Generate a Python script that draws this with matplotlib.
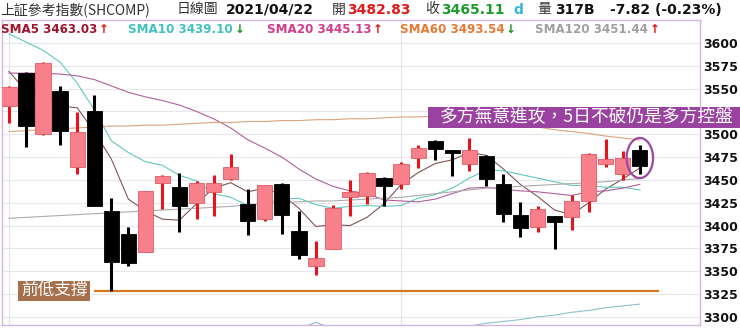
import matplotlib
matplotlib.use("Agg")
import matplotlib.pyplot as plt
import numpy as np
from matplotlib.patches import Ellipse, Rectangle

# ---------------- data ----------------
opens = [3531, 3567, 3500, 3547, 3464, 3526, 3416, 3391, 3371, 3447,
         3442, 3425, 3437, 3451, 3424, 3407, 3446, 3394, 3356, 3374,
         3431, 3432, 3452, 3446, 3474, 3493, 3483, 3468, 3476, 3446,
         3412, 3398, 3410, 3409, 3427, 3468, 3457, 3482.83]
highs = [3553, 3568, 3579, 3553, 3524, 3543, 3430, 3398, 3438, 3455,
         3458, 3449, 3455, 3478, 3440, 3445, 3447, 3416, 3383, 3423,
         3450, 3459, 3453, 3470, 3488, 3494, 3483, 3496, 3477, 3457,
         3426, 3421, 3410, 3434, 3479, 3495, 3482, 3488]
lows = [3512, 3486, 3499, 3488, 3457, 3421, 3328.5, 3356, 3371, 3418,
        3393, 3407, 3411, 3450, 3390, 3405, 3391, 3363, 3346, 3374,
        3411, 3424, 3422, 3440, 3463, 3472, 3454, 3460, 3443, 3404,
        3388, 3393, 3374, 3395, 3415, 3464, 3450, 3457]
closes = [3552, 3509, 3578, 3504, 3502, 3422, 3360, 3359, 3438, 3454,
          3421, 3447, 3447, 3464, 3405, 3444, 3412, 3368, 3364, 3419,
          3437, 3458, 3443, 3468, 3485, 3484, 3480, 3483, 3451, 3413,
          3397, 3418, 3404, 3427, 3478, 3473, 3474, 3465.11]

sma5 = [3569, 3547, 3546, 3531, 3529, 3503, 3473, 3429, 3416, 3407,
        3406, 3424, 3441, 3447, 3437, 3441, 3434, 3419, 3399, 3401,
        3400, 3409, 3424, 3445, 3458, 3468, 3472, 3480, 3477, 3462,
        3445, 3432, 3417, 3412, 3425, 3440, 3451, 3463.03]
sma10 = [3610, 3601, 3592, 3579, 3556, 3527, 3493, 3480, 3470, 3466,
         3455, 3449, 3435, 3431, 3422, 3424, 3429, 3430, 3423, 3419,
         3421, 3422, 3421, 3422, 3430, 3434, 3441, 3452, 3461, 3460,
         3456, 3452, 3448, 3444, 3444, 3442, 3442, 3439.10]
sma20 = [3567, 3567, 3567, 3566, 3564, 3560, 3553, 3546, 3541, 3537,
         3532, 3525, 3517, 3507, 3494, 3485, 3475, 3462, 3451, 3443,
         3438, 3435, 3428, 3427, 3426, 3429, 3435, 3441, 3442, 3440,
         3438, 3437, 3435, 3433, 3437, 3438, 3441, 3445.13]
sma60 = [3503, 3504, 3505, 3506, 3507, 3508, 3509, 3509, 3510, 3510,
         3511, 3512, 3513, 3513, 3514, 3514, 3515, 3515, 3516, 3516,
         3517, 3517, 3518, 3519, 3519, 3520, 3519, 3518, 3516, 3514,
         3511, 3508, 3505, 3503, 3501, 3498, 3496, 3493.54]
sma120 = [3408, 3409, 3410, 3411, 3412, 3413, 3414, 3415, 3416, 3417,
          3418, 3419, 3420, 3421, 3423, 3424, 3425, 3426, 3427, 3427,
          3428, 3429, 3430, 3431, 3433, 3435, 3437, 3439, 3441, 3442,
          3443, 3444, 3445, 3446, 3447, 3448, 3450, 3451.44]
ma_long = [3270, 3271, 3272, 3273, 3274, 3275, 3276, 3277, 3278, 3279,
           3280, 3281, 3282, 3283, 3284, 3285, 3286, 3287, 3294, 3287,
           3287, 3287, 3288, 3288, 3288, 3289, 3289, 3290, 3293, 3295,
           3297, 3300, 3302, 3305, 3307, 3310, 3312, 3314]

y_ticks = [3300, 3325, 3350, 3375, 3400, 3425, 3450, 3475, 3500, 3525,
           3550, 3575, 3600]
hidden_tick = 3525          # covered by the note box in the reference
month_starts = [0, 23]

title_items = [("上証參考指數(SHCOMP)", "#333333", "normal"),
               ("日線圖", "#333333", "normal"),
               ("2021/04/22", "#111111", "bold"),
               ("開", "#333333", "normal"),
               ("3482.83", "#E01A1A", "bold"),
               ("收", "#333333", "normal"),
               ("3465.11", "#1E9A2E", "bold"),
               ("d", "#34B4DC", "bold"),
               ("量", "#333333", "normal"),
               ("317B", "#111111", "bold"),
               ("-7.82 (-0.23%)", "#111111", "bold")]
title_x = [0, 177, 226, 332, 347, 425, 441, 513, 537, 555, 610]

sma_labels = ["SMA5 3463.03", "SMA10 3439.10", "SMA20 3445.13",
              "SMA60 3493.54", "SMA120 3451.44"]
sma_arrows = ["↑", "↓", "↑", "↓", "↑"]
sma_text_colors = ["#A0142C", "#3EC2C2", "#D23C8C", "#E57A36", "#A0A0A0"]
sma_line_colors = ["#7E5656", "#62C8C0", "#B0609A", "#D9A57C", "#ABABAB"]
sma_x = [1, 128, 267, 400, 535]

note_main = "多方無意進攻，5日不破仍是多方控盤"
note_support = "前低支撐"

# ---------------- figure ----------------
W, H = 740, 330
fig = plt.figure(figsize=(W / 100, H / 100), dpi=100)
fig.patch.set_facecolor("white")
ax = fig.add_axes([2 / W, 5 / H, 698 / W, 305 / H])

n = len(closes)
x = np.arange(n)
o = np.array(opens); c = np.array(closes)
hi = np.array(highs); lo = np.array(lows)
up = c >= o

ax.set_xlim(-0.41, 40.53)
ax.set_ylim(3291.1, 3625.2)

# grid
for yt in y_ticks:
    ax.axhline(yt, color="#E6E6EE", lw=0.8, zorder=0)
for m in month_starts:
    ax.axvline(m, color="#E2E2EA", lw=0.8, zorder=0)

# support line
support_level = min(lows)
ax.hlines(support_level, 5.0, 38.1, color="#D4781E", lw=1.6, zorder=2)

# moving averages
for series, col in zip([sma5, sma10, sma20, sma60, sma120], sma_line_colors):
    ax.plot(x, series, color=col, lw=0.8, zorder=2)
ax.plot(x, ma_long, color="#8EC0CC", lw=0.8, zorder=2)

# candles
ax.vlines(x[up], lo[up], hi[up], color="#E8141C", lw=2.2, zorder=3)
ax.vlines(x[~up], lo[~up], hi[~up], color="#000000", lw=2.2, zorder=3)
body_bottom = np.minimum(o, c)
body_h = np.maximum(np.abs(c - o), 0.6)
ax.bar(x[up], body_h[up], bottom=body_bottom[up], width=0.9,
       color="#F8808A", edgecolor="#E25A62", linewidth=0.6, zorder=4)
ax.bar(x[~up], body_h[~up], bottom=body_bottom[~up], width=0.9,
       color="#000000", edgecolor="#000000", linewidth=0.6, zorder=4)

# ellipse around last candle
ell = Ellipse((n - 1, (highs[-1] + lows[-1]) / 2 + 1.5), width=1.55, height=44,
              fill=False, edgecolor="#9A48A2", lw=1.6, zorder=6)
ax.add_patch(ell)

# support label
ax.add_patch(Rectangle((0.53, support_level - 11), 4.22, 22, facecolor="#A6704D",
                       edgecolor="none", zorder=7))
ax.text(2.64, support_level, note_support, color="white", fontsize=12,
        family=["Noto Sans CJK TC", "DejaVu Sans"], ha="center", va="center",
        zorder=8)

# main note
ax.add_patch(Rectangle((24.57, 3506.9), 19.0, 23.0, facecolor="#9A42A0",
                       edgecolor="none", zorder=9, clip_on=False))
ax.text(33.9, 3518.4, note_main, color="white", fontsize=12.8,
        family=["Noto Sans CJK TC", "DejaVu Sans"], ha="center", va="center",
        zorder=10, clip_on=False)

# axes styling
ax.set_xticks([])
ax.set_yticks(y_ticks)
ax.set_yticklabels(["" if yt == hidden_tick else str(yt) for yt in y_ticks])
ax.yaxis.tick_right()
ax.tick_params(axis="y", length=0, pad=2.5, labelsize=9, labelcolor="#111111")
for lbl in ax.get_yticklabels():
    lbl.set_fontweight("bold")
for sp in ax.spines.values():
    sp.set_color("#D2B4DC")
    sp.set_linewidth(1.0)

# header rows
renderer = fig.canvas.get_renderer()
fam = ["Noto Sans CJK TC", "DejaVu Sans"]
for (s, col, wt), xp in zip(title_items, title_x):
    if wt == "bold":
        fig.text(xp / W, 1 - 9.5 / H, s, color=col, fontsize=10, fontweight="bold",
                 family="DejaVu Sans", ha="left", va="center")
    else:
        fig.text(xp / W, 1 - 9.5 / H, s, color=col, fontsize=10,
                 family=fam, ha="left", va="center")

for lab, arr, col, xp in zip(sma_labels, sma_arrows, sma_text_colors, sma_x):
    t = fig.text(xp / W, 1 - 29.5 / H, lab, color=col, fontsize=8.6,
                 fontweight="bold", family="DejaVu Sans", ha="left", va="center",
                 zorder=5)
    bb = t.get_window_extent(renderer)
    acol = "#E01010" if arr == "↑" else "#1E8E1E"
    fig.text((bb.x1 + 1.5) / W, 1 - 29.5 / H, arr, color=acol, fontsize=8.6,
             fontweight="bold", family="DejaVu Sans", ha="left", va="center",
             zorder=5)

fig.savefig("out.png", dpi=100)
